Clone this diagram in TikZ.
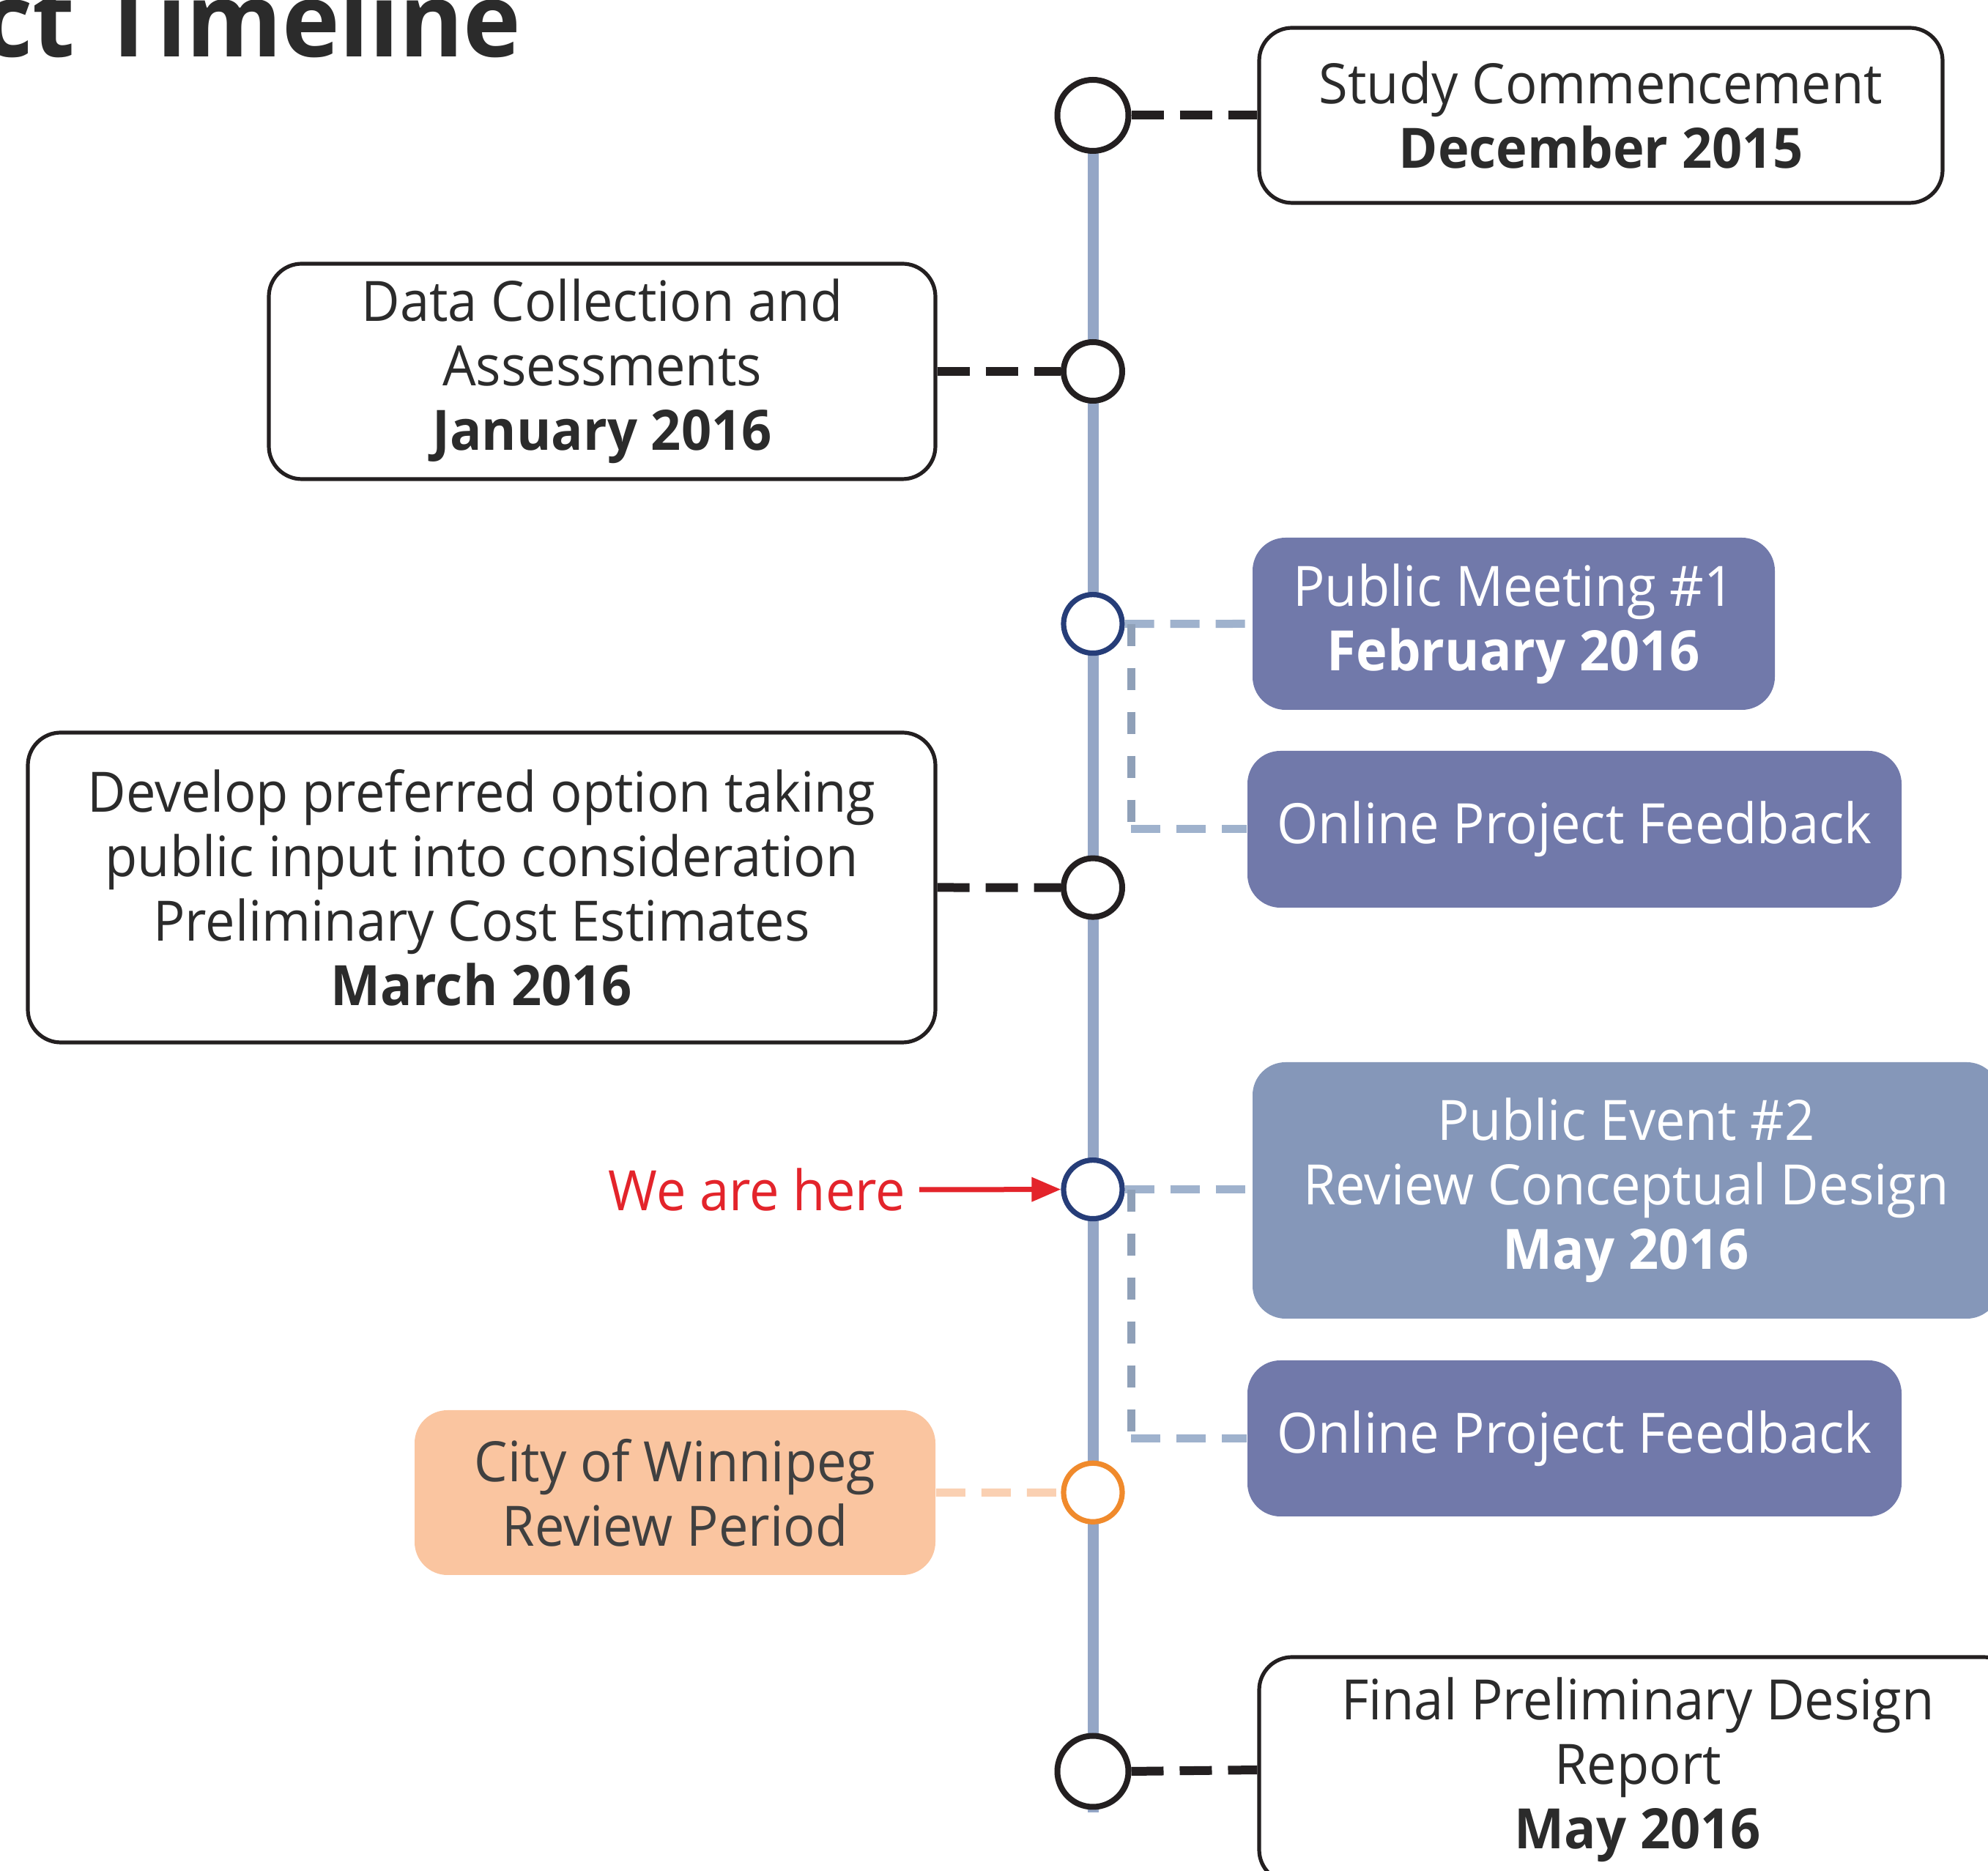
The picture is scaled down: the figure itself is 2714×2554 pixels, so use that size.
\documentclass[tikz,border=0pt]{standalone}
\usepackage{fontspec}
\setmainfont[FakeStretch=0.95]{Open Sans}
\usetikzlibrary{arrows.meta}
\definecolor{txt}{HTML}{2B2B2B}
\definecolor{boxline}{HTML}{231F20}
\definecolor{tline}{HTML}{94A6C6}
\definecolor{pm}{HTML}{7179AA}
\definecolor{pe}{HTML}{8597B9}
\definecolor{peach}{HTML}{FAC5A0}
\definecolor{peachdash}{HTML}{FAD0B2}
\definecolor{ldash}{HTML}{9FB2CD}
\definecolor{navy}{HTML}{263D78}
\definecolor{orng}{HTML}{F08A2C}
\definecolor{redc}{HTML}{E3242B}
\begin{document}
\begin{tikzpicture}[x=0.25pt,y=-0.25pt,
  bodyfont/.style={font=\fontsize{19}{22}\selectfont},
  wbox/.style={bodyfont, draw=boxline, line width=1.3pt, rounded corners=11.25pt, fill=white, align=center, text=txt, inner sep=0pt},
  bbox/.style={bodyfont, fill=#1, rounded corners=11.25pt, align=center, text=white, inner sep=0pt},
  obox/.style={bodyfont, fill=peach, rounded corners=11.25pt, align=center, text=txt!90, inner sep=0pt},
  bigms/.style={circle, draw=boxline, line width=2pt, fill=white, minimum size=24.25pt, inner sep=0pt},
  smallms/.style={circle, draw=#1, line width=1.8pt, fill=white, minimum size=20pt, inner sep=0pt},
  blackdash/.style={draw=boxline, line width=3pt, dash pattern=on 11pt off 5.5pt},
  bluedash/.style={draw=ldash, line width=2.75pt, dash pattern=on 10pt off 5.5pt},
  vdash/.style={draw=ldash!90!black, line width=2.75pt, dash pattern=on 7.5pt off 7.5pt},
  peachd/.style={draw=peachdash, line width=2.75pt, dash pattern=on 10pt off 5.5pt},
  timeline/.style={draw=tline, line width=3.75pt}]
\useasboundingbox (0,0) rectangle (2714,2554);
\fill[white] (0,0) rectangle (2714,2554);

% title
\node[anchor=base east, inner sep=0pt, text=txt, font=\fontsize{35}{40}\selectfont\bfseries] (title) at (712,78) {ct Timeline};

% timeline line
\coordinate (ltop) at (1492,157.5);
\coordinate (lbot) at (1492,2474);
\draw[timeline] (ltop) -- (lbot);

% milestones
\node[bigms] (c1) at (1492,157.5) {};
\node[smallms=boxline, line width=2pt] (c2) at (1492,507) {};
\node[smallms=navy] (c3) at (1492,851.6) {};
\node[smallms=boxline, line width=2pt] (c4) at (1492,1211.6) {};
\node[smallms=navy] (c5) at (1492,1623.6) {};
\node[smallms=orng] (c6) at (1492,2037.3) {};
\node[bigms] (c7) at (1492,2418) {};

% boxes
\node[wbox, minimum width=233.25pt, minimum height=59.75pt] (A) at (2185.5,157.5)
  {Study Commencement\\\textbf{December 2015}};
\node[wbox, minimum width=227.5pt, minimum height=73.5pt] (B) at (822,507)
  {Data Collection and\\Assessments\\\textbf{January 2016}};
\node[bbox=pm, minimum width=178.25pt, minimum height=58.75pt] (C) at (2066.5,851.5)
  {Public Meeting \#1\\\textbf{February 2016}};
\node[bbox=pm, minimum width=223.25pt, minimum height=53.5pt] (D) at (2149.5,1132)
  {Online Project Feedback};
\node[wbox, minimum width=309.75pt, minimum height=105.75pt] (E) at (657.5,1211.5)
  {Develop preferred option taking\\public input into consideration\\Preliminary Cost Estimates\\\textbf{March 2016}};
\node[bbox=pe, minimum width=255pt, minimum height=87.5pt] (F) at (2220,1625)
  {Public Event \#2\\Review Conceptual Design\\\textbf{May 2016}};
\node[bbox=pm, minimum width=223.25pt, minimum height=53.25pt] (G) at (2149.5,1963.5)
  {Online Project Feedback};
\node[obox, minimum width=177.75pt, minimum height=56.25pt] (H) at (921.5,2037.5)
  {City of Winnipeg\\Review Period};
\node[wbox, minimum width=258.5pt, minimum height=77pt] (I) at (2236,2416)
  {Final Preliminary Design\\Report\\\textbf{May 2016}};

% connectors
\draw[blackdash] (c1.east) -- (A.west);
\draw[blackdash] (B.east) -- (c2.west);
\draw[blackdash] (E.east) -- (c4.west);
\draw[blackdash] (c7.east) -- (I.west);
\draw[peachd] (H.east) -- (c6.west);

\draw[bluedash] (c3.east) -- (C.west);
\coordinate (k1) at (1544,851.6);
\coordinate (k2) at (1544,1132);
\draw[vdash] (k1) -- (k2);
\draw[bluedash] (k2) -- (D.west);

\draw[bluedash] (c5.east) -- (c5.east -| F.west);
\coordinate (k3) at (1544,1623.6);
\coordinate (k4) at (1544,1963.5);
\draw[vdash] (k3) -- (k4);
\draw[bluedash] (k4) -- (G.west);

% we are here
\node[anchor=east, inner sep=0pt, inner xsep=4.5pt, text=redc, bodyfont] (here) at (1255,1624) {We are here};
\draw[redc, line width=1.75pt, -{Triangle[length=10pt,width=8pt]}] (here.east) -- (c5.west);
\end{tikzpicture}
\end{document}
